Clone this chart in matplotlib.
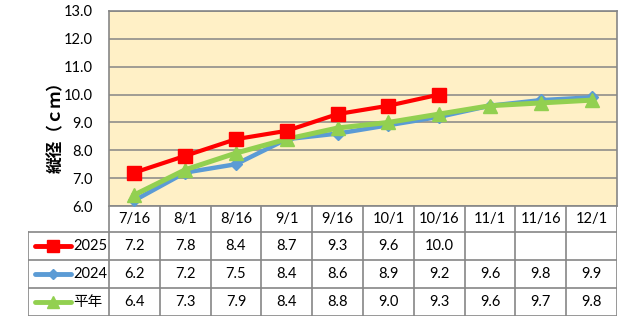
import numpy as np
import matplotlib
matplotlib.use("Agg")
import matplotlib.pyplot as plt

plt.rcParams['font.family'] = ['Lato', 'Noto Sans CJK JP', 'DejaVu Sans']

# data
dates = ['7/16', '8/1', '8/16', '9/1', '9/16', '10/1', '10/16', '11/1', '11/16', '12/1']
y2025 = [7.2, 7.8, 8.4, 8.7, 9.3, 9.6, 10.0, None, None, None]
y2024 = [6.2, 7.2, 7.5, 8.4, 8.6, 8.9, 9.2, 9.6, 9.8, 9.9]
y_avg = [6.4, 7.3, 7.9, 8.4, 8.8, 9.0, 9.3, 9.6, 9.7, 9.8]
series_names = ['2025', '2024', '平年']

c_red = '#FF0000'
c_blue = '#5B9BD5'
c_green = '#92D050'
c_grid = '#868686'

W, H = 641, 326
fig = plt.figure(figsize=(W / 100, H / 100), dpi=100)

# main plot area (pixel box)
L, R, T, B = 109, 617, 11, 206
ax = fig.add_axes([L / W, 1 - B / H, (R - L) / W, (B - T) / H])
ax.set_facecolor('#FFF0C6')

x = np.arange(len(dates))


def arr(v):
    return np.array([np.nan if a is None else a for a in v], dtype=float)


ax.plot(x, arr(y2024), color=c_blue, lw=3.2, marker='D', ms=6.5, zorder=3)
ax.plot(x, arr(y_avg), color=c_green, lw=3.6, marker='^', ms=10, zorder=4)
ax.plot(x, arr(y2025), color=c_red, lw=3.0, marker='s', ms=9.5, zorder=5)

ax.set_xlim(-0.5, len(dates) - 0.5)
ax.set_ylim(6, 13)
ax.set_yticks(np.arange(6, 13.1, 1))
ax.set_yticklabels(['%.1f' % v for v in np.arange(6, 13.1, 1)], fontsize=10.5)
ax.set_xticks([])
ax.tick_params(axis='y', length=0, pad=12)
ax.grid(axis='y', color=c_grid, lw=1.1)
ax.set_axisbelow(True)
for s in ax.spines.values():
    s.set_color(c_grid)
    s.set_linewidth(1.2)

fig.text(56 / W, 1 - 123 / H, '縦径（ｃｍ）', rotation=90, ha='center', va='center',
         fontsize=12, fontweight='bold', family=['Noto Sans CJK JP'])

# data table below plot
TL, TB = 28, 316
tax = fig.add_axes([TL / W, 1 - TB / H, (R - TL) / W, (TB - B) / H])
colw = (R - L) / len(dates)
x0 = -0.5 - (L - TL) / colw
tax.set_xlim(x0, len(dates) - 0.5)
tax.set_ylim(TB - B, 0)
tax.axis('off')

rows = [26, 54, 82, 110]
lc = dict(color=c_grid, lw=1.2, solid_capstyle='projecting')
for i in range(len(dates) + 1):
    tax.plot([i - 0.5, i - 0.5], [0, rows[-1]], **lc)
tax.plot([x0, x0], [rows[0], rows[-1]], **lc)
for r in rows:
    tax.plot([x0, len(dates) - 0.5], [r, r], **lc)

for i, d in enumerate(dates):
    tax.text(i, 13, d, ha='center', va='center', fontsize=10.5)

styles = [(c_red, 's', 8), (c_blue, 'D', 5.5), (c_green, '^', 8.5)]
for k, (vals, name, (c, m, ms)) in enumerate(zip([y2025, y2024, y_avg], series_names, styles)):
    yc = (rows[k] + rows[k + 1]) / 2
    xa = x0 + (35 - TL) / colw
    xb = x0 + (71 - TL) / colw
    tax.plot([xa, xb], [yc, yc], color=c, lw=3.5, solid_capstyle='round')
    tax.plot([(xa + xb) / 2], [yc], color=c, marker=m, ms=ms, ls='none')
    tax.text(x0 + (73 - TL) / colw, yc, name, ha='left', va='center', fontsize=10.5)
    for i, v in enumerate(vals):
        if v is not None:
            tax.text(i, yc, '%.1f' % v, ha='center', va='center', fontsize=10.5)

fig.savefig('out.png', dpi=100)
